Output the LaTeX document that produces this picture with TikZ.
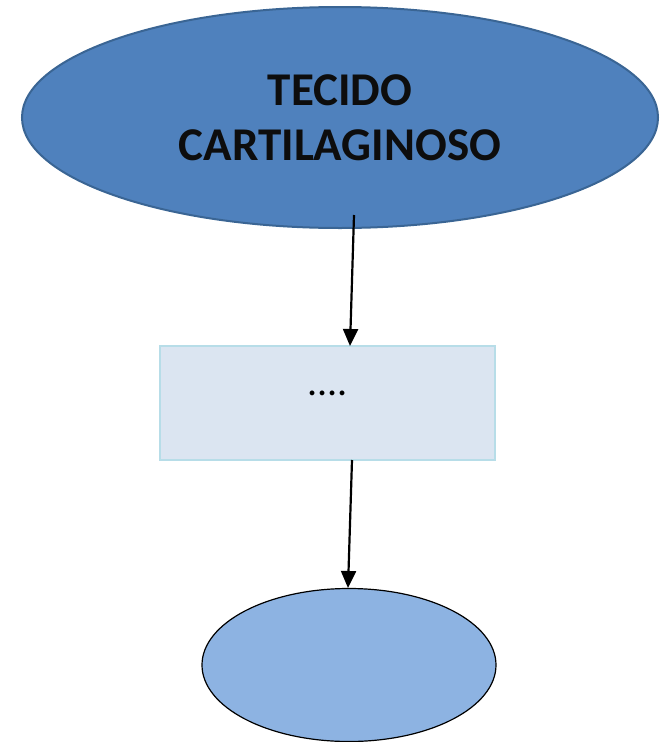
\documentclass[tikz,border=0pt]{standalone}
\usepackage{fontspec}
\setmainfont{Carlito}
\usetikzlibrary{shapes.geometric,arrows.meta}
\definecolor{topfill}{HTML}{4F81BD}
\definecolor{topdraw}{HTML}{3A6594}
\definecolor{boxfill}{HTML}{DBE5F1}
\definecolor{boxdraw}{HTML}{B7DDE8}
\definecolor{botfill}{HTML}{8DB3E2}
\definecolor{txt}{HTML}{0D0D0D}
\tikzset{
  topell/.style={ellipse, fill=topfill, draw=topdraw, line width=2pt, inner sep=0pt,
    minimum width=636pt, minimum height=221pt, align=center, text=txt,
    font=\fontsize{47}{55}\selectfont\bfseries},
  stepbox/.style={rectangle, fill=boxfill, draw=boxdraw, line width=1.2pt, inner sep=0pt,
    minimum width=335pt, minimum height=114pt},
  botell/.style={ellipse, fill=botfill, draw=black, line width=1.2pt, inner sep=0pt,
    minimum width=294pt, minimum height=153pt},
  conn/.style={line width=2.2pt, -{Triangle[length=17pt,width=15pt]}}
}
\begin{document}
\begin{tikzpicture}[x=1pt,y=-1pt]
\useasboundingbox (0,0) rectangle (666,742);
\node[topell] (top) at (340,117.5) {TECIDO\\CARTILAGINOSO};
\node[stepbox] (box) at (327.5,403) {};
\node[font=\fontsize{40}{40}\selectfont] (dots) at (327.5,393) {....};
\node[botell] (bot) at (349,665) {};
\coordinate (s1) at (354,215);
\coordinate (e1) at (350,346);
\coordinate (s2) at (352,460);
\coordinate (e2) at (348,588);
\draw[conn] (s1) -- (e1);
\draw[conn] (s2) -- (e2);
\end{tikzpicture}
\end{document}
